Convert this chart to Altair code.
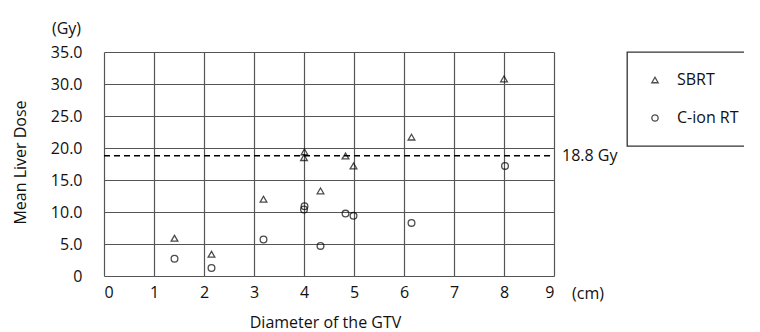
import altair as alt
import pandas as pd

# Data
diam_sbrt = [1.41, 2.15, 3.19, 4.01, 4.00, 4.33, 4.83, 4.99, 6.15, 8.00]
dose_sbrt = [5.9, 3.4, 12.0, 19.4, 18.5, 13.3, 18.75, 17.2, 21.7, 30.8]
diam_cion = [1.41, 2.15, 3.19, 4.01, 4.00, 4.33, 4.83, 4.99, 6.15, 8.02]
dose_cion = [2.7, 1.25, 5.7, 10.9, 10.4, 4.7, 9.75, 9.4, 8.3, 17.2]
groups = ["SBRT", "C-ion RT"]
threshold = 18.8
x_ticks = [0, 1, 2, 3, 4, 5, 6, 7, 8, 9]
y_ticks = [0, 5, 10, 15, 20, 25, 30, 35]

FONT = "Open Sans"
FS = 16

df = pd.DataFrame({
    "diam": diam_sbrt + diam_cion,
    "dose": dose_sbrt + dose_cion,
    "group": [groups[0]] * len(diam_sbrt) + [groups[1]] * len(diam_cion),
})

xscale = alt.Scale(domain=[0, 9], nice=False, zero=True)
yscale = alt.Scale(domain=[0, 35], nice=False)

x_axis = alt.Axis(values=x_ticks, title="Diameter of the GTV", format="d",
                  labelOverlap=False, titleX=221, titleY=46, titleBaseline="middle")
y_axis = alt.Axis(values=y_ticks, title="Mean Liver Dose", labelOverlap=False,
                  labelExpr="datum.value == 0 ? '0' : format(datum.value, '.1f')",
                  titleX=-84, titleY=110, titleAngle=-90, titleAlign="center",
                  titleBaseline="middle")

thr_df = pd.DataFrame({"x0": [0], "x1": [9], "y": [threshold], "label": [f"{threshold} Gy"]})

rule = alt.Chart(thr_df).mark_rule(color="black", strokeWidth=1.5, strokeDash=[6, 4]).encode(
    x=alt.X("x0:Q", scale=xscale, axis=x_axis), x2="x1:Q",
    y=alt.Y("y:Q", scale=yscale, axis=y_axis)
)

points = alt.Chart(df).mark_point(filled=False, color="black", strokeWidth=1.3, size=45).encode(
    x=alt.X("diam:Q", scale=xscale, axis=x_axis),
    y=alt.Y("dose:Q", scale=yscale, axis=y_axis),
    shape=alt.Shape("group:N", scale=alt.Scale(domain=groups, range=["triangle-up", "circle"]),
                    legend=alt.Legend(title=None, orient="none", legendX=523, legendY=0)),
)

rule_label = alt.Chart(thr_df).mark_text(align="left", baseline="middle", dx=8, fontSize=FS,
                                         font=FONT, color="#111").encode(
    x=alt.X("x1:Q", scale=xscale, axis=x_axis), y=alt.Y("y:Q", scale=yscale, axis=y_axis),
    text="label:N"
)

unit_df = pd.DataFrame({"x": [9], "y": [0], "t": ["(cm)"]})
cm_label = alt.Chart(unit_df).mark_text(align="left", baseline="middle", dx=18, dy=18,
                                        fontSize=FS, font=FONT, color="#111").encode(
    x=alt.X("x:Q", scale=xscale, axis=x_axis), y=alt.Y("y:Q", scale=yscale, axis=y_axis),
    text="t:N"
)
gy_df = pd.DataFrame({"x": [0], "y": [35], "t": ["(Gy)"]})
gy_label = alt.Chart(gy_df).mark_text(align="right", baseline="middle", dx=-23, dy=-23,
                                      fontSize=FS, font=FONT, color="#111").encode(
    x=alt.X("x:Q", scale=xscale, axis=x_axis), y=alt.Y("y:Q", scale=yscale, axis=y_axis),
    text="t:N"
)

chart = alt.layer(rule, points, rule_label, cm_label, gy_label).properties(
    width=450, height=224,
    autosize=alt.AutoSizeParams(type="none"),
    padding={"left": 96, "top": 44, "right": 190, "bottom": 56},
).configure_view(stroke=None).configure_axis(
    grid=True, gridColor="#555", gridWidth=1.2, domain=False, ticks=False,
    labelFont=FONT, labelFontSize=FS, labelColor="#111",
    titleFont=FONT, titleFontSize=FS, titleColor="#111", titleFontWeight="normal",
).configure_axisY(labelPadding=22).configure_axisX(labelPadding=8).configure_legend(
    strokeColor="#333", strokeWidth=1.3, padding=20, rowPadding=22,
    labelFont=FONT, labelFontSize=FS, labelColor="#111", labelOffset=14,
    symbolStrokeColor="black", symbolStrokeWidth=1.3, symbolFillColor="transparent",
    symbolSize=40, labelLimit=200,
)

chart.save("out.html", embed_options={"renderer": "svg", "actions": False})
